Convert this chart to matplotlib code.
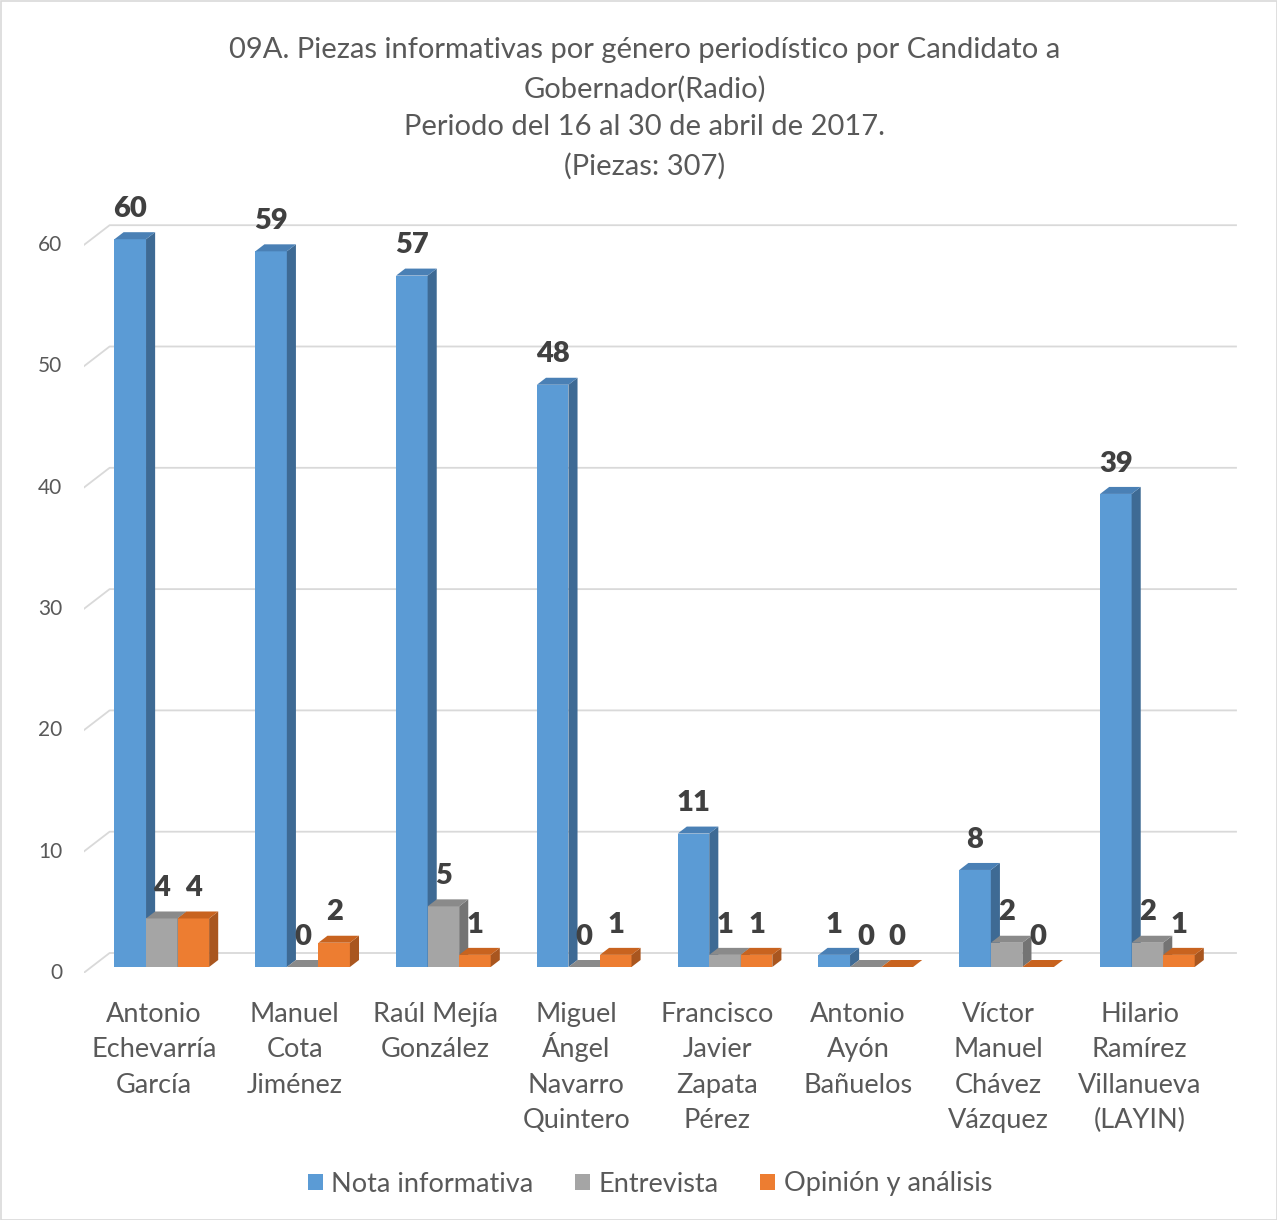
import matplotlib.pyplot as plt
from matplotlib.patches import Polygon, Patch, Rectangle

candidatos = ["Antonio\nEchevarría\nGarcía", "Manuel\nCota\nJiménez", "Raúl Mejía\nGonzález",
              "Miguel\nÁngel\nNavarro\nQuintero", "Francisco\nJavier\nZapata\nPérez", "Antonio\nAyón\nBañuelos",
              "Víctor\nManuel\nChávez\nVázquez", "Hilario\nRamírez\nVillanueva\n(LAYIN)"]
series = ["Nota informativa", "Entrevista", "Opinión y análisis"]
nota = [60, 59, 57, 48, 11, 1, 8, 39]
entrevista = [4, 0, 5, 0, 1, 0, 2, 2]
opinion = [4, 2, 1, 1, 1, 0, 0, 1]
yticks = [0, 10, 20, 30, 40, 50, 60]

titulo = ("09A. Piezas informativas por género periodístico por Candidato a\n"
          "Gobernador(Radio)\nPeriodo del 16 al 30 de abril de 2017.\n(Piezas: 307)")

# colores: frente, lado, tapa
colores = [("#5B9BD5", "#3E6A94", "#4A80B5"),
           ("#A5A5A5", "#747474", "#8A8A8A"),
           ("#ED7D31", "#A9561F", "#C8631F")]

plt.rcParams['font.family'] = ['Lato', 'DejaVu Sans']
GRIS = "#595959"

W, H = 1277, 1220
fig = plt.figure(figsize=(W / 100, H / 100), dpi=100)
fig.patches.append(Rectangle((0.5 / W, 0.5 / H), 1 - 1 / W, 1 - 1 / H, transform=fig.transFigure,
                             fill=False, edgecolor="#D9D9D9", linewidth=1.2))

# escala: 140.8 px por categoria, 12.13 px por unidad
px_x, px_y = 140.8, 12.13
x_izq = 83.6
y0 = H - 973
xmin, xmax = -0.5, 7.75
ymax = 62
ax = fig.add_axes([x_izq / W, y0 / H, (xmax - xmin) * px_x / W, ymax * px_y / H])
ax.set_xlim(xmin, xmax)
ax.set_ylim(0, ymax)
ax.axis('off')

DX = 26 / px_x   # profundidad total
DY = 20 / px_y
d0, d1 = 0.3, 0.65
w = 0.224

# paredes y lineas de fondo
for v in yticks:
    ax.plot([-0.5, -0.5 + DX, 7.5 + DX], [v, v + DY, v + DY], color="#D9D9D9", lw=1.3, zorder=1)
    ax.text(-0.5 - 0.15, v, str(v), ha='right', va='center', fontsize=15, color=GRIS)

valores = [nota, entrevista, opinion]
z = 2
for i in range(len(candidatos)):
    for j, vals in enumerate(valores):
        v = vals[i]
        fc, sc, tc = colores[j]
        xa = i - 1.5 * w + j * w + d0 * DX
        xb = xa + w
        yb = d0 * DY
        ddx, ddy = (d1 - d0) * DX, (d1 - d0) * DY
        ax.bar(xa, v, width=w, bottom=yb, align='edge', color=fc, zorder=z)
        ax.add_patch(Polygon([(xb, yb), (xb, yb + v), (xb + ddx, yb + v + ddy), (xb + ddx, yb + ddy)],
                             closed=True, facecolor=sc, edgecolor='none', zorder=z))
        ax.add_patch(Polygon([(xa, yb + v), (xb, yb + v), (xb + ddx, yb + v + ddy), (xa + ddx, yb + v + ddy)],
                             closed=True, facecolor=tc, edgecolor='none', zorder=z))
        ax.text(xa + w / 2, yb + v + 2.5, str(v), ha='center', va='center', fontsize=21,
                fontweight='heavy', color="#404040", zorder=50, clip_on=False)
        z += 1

# etiquetas de categoria, una linea a la vez para espaciado uniforme
paso = 35.5 / px_y
for i, nombre in enumerate(candidatos):
    for k, linea in enumerate(nombre.split("\n")):
        ax.text(i, -4.0 - k * paso, linea, ha='center', va='baseline', fontsize=19.5, color=GRIS,
                clip_on=False)

fig.text(0.505, 1 - 37 / H, titulo, ha='center', va='top', fontsize=21, color=GRIS, linespacing=1.57)

handles = [Patch(facecolor=c[0]) for c in colores]
fig.legend(handles, series, loc='center', bbox_to_anchor=(0.509, 36 / H), ncol=3, frameon=False,
           fontsize=19.5, labelcolor=GRIS, handlelength=0.55, handleheight=0.55, handletextpad=0.3,
           columnspacing=1.55)

fig.savefig("out.png", dpi=100)
